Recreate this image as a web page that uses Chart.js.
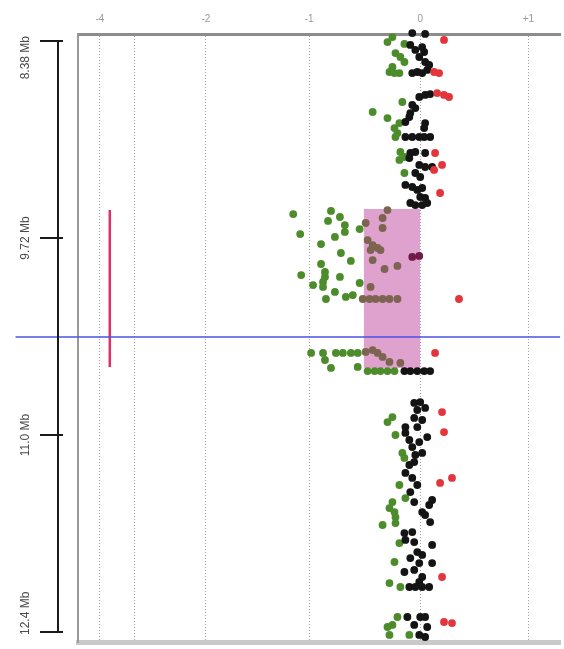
<!DOCTYPE html>
<html>
<head>
<meta charset="utf-8">
<script src="https://cdn.jsdelivr.net/npm/chart.js@4/dist/chart.umd.min.js"></script>
<style>
  html, body { margin: 0; padding: 0; background: #ffffff; }
  #c { display: block; }
</style>
</head>
<body>
<canvas id="c" width="564" height="649"></canvas>
<script>
// ---- axis ticks ----
const xTickValues = [-2.936, -2.618, -1.964, -1.018, 0, 0.991];
const xTickLabels = ['-4', '', '-2', '-1', '0', '+1'];
const yTickValues = [8.38, 9.72, 11.06, 12.40];
const yTickLabels = ['8.38 Mb', '9.72 Mb', '11.0 Mb', '12.4 Mb'];

// ---- selection box, segment, cut line ----
const boxX = [-0.518, 0];
const boxY = [9.523, 10.604];
const segX = [-2.845, -2.845];
const segY = [9.53, 10.597];
const cutY = 10.393;
const cutX = [-3.709, 1.2818];

// ---- series: [log ratio, position Mb] ----
const greenPts = [
  [-0.255,8.353],[-0.300,8.387],[-0.145,8.400],[-0.227,8.462],[-0.182,8.489],[-0.145,8.523],
  [-0.255,8.557],[-0.282,8.591],[-0.236,8.598],[-0.191,8.598],[-0.164,8.795],[-0.436,8.863],
  [-0.300,8.904],[-0.191,8.938],[-0.236,8.972],[-0.209,9.006],[-0.227,9.033],[-0.182,9.135],
  [-0.145,9.169],[-0.191,9.189],[-0.145,9.278],
  [-1.164,9.557],[-0.818,9.536],[-0.845,9.604],[-0.736,9.577],[-0.691,9.632],[-0.691,9.679],
  [-1.100,9.693],[-0.782,9.713],[-0.555,9.659],[-0.909,9.761],[-0.727,9.822],[-0.636,9.876],
  [-0.909,9.897],[-0.873,9.951],[-0.873,9.985],[-0.891,10.019],[-0.891,10.053],[-1.091,9.972],
  [-0.736,9.985],[-0.982,10.040],[-0.555,10.026],[-0.782,10.087],[-0.682,10.121],[-0.618,10.108],
  [-0.864,10.135],
  [-1.000,10.502],[-0.891,10.502],[-0.773,10.502],[-0.709,10.502],[-0.636,10.502],[-0.573,10.502],
  [-0.873,10.550],[-0.818,10.604],[-0.573,10.597],
  [-0.482,10.625],[-0.418,10.625],[-0.364,10.625],[-0.300,10.625],[-0.236,10.625],
  [-0.255,10.938],[-0.300,10.972],[-0.227,11.060],[-0.164,11.182],[-0.145,11.216],[-0.191,11.400],
  [-0.136,11.489],[-0.255,11.516],[-0.282,11.557],[-0.236,11.584],[-0.227,11.618],[-0.345,11.672],
  [-0.227,11.659],[-0.191,11.795],[-0.236,11.924],[-0.282,12.067],[-0.182,12.094],[-0.209,12.298],
  [-0.300,12.366],[-0.255,12.352],[-0.282,12.420],[-0.100,12.420]
];
const brownPts = [
  [-0.300,9.530],[-0.345,9.584],[-0.345,9.652],[-0.500,9.618],[-0.482,9.734],[-0.436,9.768],
  [-0.391,9.788],[-0.364,9.802],[-0.455,9.802],[-0.436,9.870],[-0.327,9.931],[-0.209,9.910],
  [-0.455,10.053],[-0.527,10.135],[-0.464,10.135],[-0.409,10.135],[-0.345,10.135],[-0.282,10.135],
  [-0.209,10.135],[-0.500,10.495],[-0.436,10.482],[-0.391,10.502],[-0.345,10.529],[-0.282,10.563],
  [-0.182,10.570]
];
const maroonPts = [[-0.073,9.849],[-0.009,9.842]];
const blackPts = [
  [-0.073,8.326],[0.045,8.332],[-0.091,8.407],[0.018,8.421],[-0.045,8.441],[0.036,8.455],
  [-0.009,8.489],[0.045,8.523],[0.082,8.543],[-0.073,8.598],[-0.027,8.591],[0.018,8.598],
  [0.064,8.577],[-0.009,8.761],[0.045,8.747],[0.091,8.741],[-0.073,8.815],[-0.045,8.836],
  [-0.091,8.870],[-0.100,8.897],[-0.136,8.931],[0.045,8.938],[0.036,8.972],[-0.136,9.033],
  [-0.073,9.033],[-0.009,9.033],[0.036,9.033],[0.091,9.033],[-0.091,9.142],[-0.045,9.135],
  [0.045,9.142],[-0.100,9.176],[-0.009,9.223],[0.045,9.237],[0.109,9.237],[-0.045,9.278],
  [0.000,9.305],[-0.136,9.359],[-0.073,9.373],[-0.027,9.393],[0.018,9.380],[0.000,9.441],
  [0.045,9.448],[-0.091,9.482],[-0.045,9.496],[0.018,9.496],[0.064,9.482],
  [-0.145,10.625],[-0.091,10.625],[-0.027,10.625],[0.036,10.625],[0.091,10.625],
  [-0.055,10.842],[0.000,10.836],[0.045,10.876],[-0.027,10.890],[-0.055,10.944],[0.018,10.958],
  [-0.136,11.006],[-0.027,11.006],[-0.136,11.046],[0.064,11.074],[-0.100,11.094],[-0.009,11.108],
  [-0.073,11.142],[-0.045,11.196],[0.018,11.182],[-0.055,11.244],[-0.100,11.264],[-0.136,11.318],
  [-0.073,11.352],[-0.027,11.400],[-0.091,11.448],[0.109,11.502],[-0.055,11.516],[0.082,11.536],
  [0.018,11.584],[0.045,11.604],[0.091,11.652],[-0.145,11.727],[-0.073,11.720],[-0.136,11.774],
  [-0.055,11.788],[0.109,11.808],[-0.027,11.856],[0.018,11.876],[-0.091,11.897],[-0.009,11.931],
  [0.109,11.931],[-0.145,11.992],[-0.055,11.978],[0.018,12.026],[-0.009,12.060],[-0.100,12.094],
  [-0.045,12.094],[0.018,12.094],[0.082,12.094],[-0.118,12.298],[0.000,12.298],[0.045,12.298],
  [-0.055,12.352],[0.064,12.366],[-0.009,12.420],[0.045,12.434]
];
const redPts = [
  [0.218,8.373],[0.127,8.591],[0.173,8.598],[0.155,8.734],[0.218,8.747],[0.264,8.761],
  [0.136,9.142],[0.200,9.223],[0.127,9.257],[0.182,9.414],[0.355,10.135],[0.136,10.502],
  [0.200,10.904],[0.218,11.040],[0.182,11.386],[0.291,11.352],[0.200,12.026],[0.218,12.332],
  [0.291,12.339]
];

const toXY = arr => arr.map(p => ({x: p[0], y: p[1]}));
const pointSet = (pts, color, order) => ({
  data: toXY(pts), backgroundColor: color, borderWidth: 0,
  pointRadius: 3.9, pointHoverRadius: 3.9, order: order, clip: false
});

const leftAxisPlugin = {
  id: 'leftAxis',
  afterDraw(chart) {
    const ys = chart.scales.y;
    const c = chart.ctx;
    const p = yTickValues.map(v => ys.getPixelForValue(v));
    c.save();
    c.strokeStyle = '#1a1a1a';
    c.lineWidth = 2;
    c.beginPath();
    c.moveTo(58, p[0]);
    c.lineTo(58, p[p.length - 1]);
    c.stroke();
    p.forEach(py => {
      c.beginPath();
      c.moveTo(40, Math.round(py));
      c.lineTo(63, Math.round(py));
      c.stroke();
    });
    c.font = '12px "Liberation Sans", Arial, sans-serif';
    c.fillStyle = '#4a4a4a';
    c.textBaseline = 'middle';
    p.forEach((py, i) => {
      c.save();
      let ay = py;
      if (i === 0) { c.textAlign = 'right'; ay = py - 5; }
      else if (i === p.length - 1) { c.textAlign = 'left'; ay = py + 3; }
      else { c.textAlign = 'center'; }
      c.translate(26, ay);
      c.rotate(-Math.PI / 2);
      c.fillText(yTickLabels[i], 0, 0);
      c.restore();
    });
    c.restore();
  }
};

new Chart(document.getElementById('c'), {
  type: 'scatter',
  data: {
    datasets: [
      { type: 'line', data: toXY([[cutX[0], cutY], [cutX[1], cutY]]), borderColor: '#4a52e4',
        borderWidth: 1.5, pointRadius: 0, fill: false, clip: false, order: 0 },
      { type: 'line', data: toXY([[segX[0], segY[0]], [segX[1], segY[1]]]), borderColor: '#de2f68',
        borderWidth: 2.5, pointRadius: 0, fill: false, order: 1 },
      pointSet(redPts, '#e2363c', 2),
      pointSet(maroonPts, '#6e1c45', 3),
      pointSet(blackPts, '#141414', 4),
      pointSet(brownPts, '#7d6450', 5),
      pointSet(greenPts, '#4c8c2b', 6),
      { type: 'line', data: toXY([[boxX[0], boxY[0]], [boxX[1], boxY[0]]]),
        borderWidth: 0, pointRadius: 0, backgroundColor: '#dfa1cd',
        fill: { target: { value: boxY[1] } }, order: 7 }
    ]
  },
  options: {
    responsive: false,
    animation: false,
    events: [],
    layout: { padding: 0 },
    plugins: { legend: { display: false }, tooltip: { enabled: false } },
    scales: {
      x: {
        type: 'linear', position: 'top', min: -3.1364, max: 1.2818,
        afterBuildTicks: s => { s.ticks = xTickValues.map(v => ({ value: v })); },
        ticks: {
          callback: (v, i) => xTickLabels[i],
          font: { size: 10, family: '"Liberation Sans", Arial, sans-serif' },
          color: '#9a9a9a', padding: 9, maxRotation: 0, autoSkip: false
        },
        grid: { color: '#a0a0a0', lineWidth: 1, drawTicks: false },
        border: { color: '#8c8c8c', width: 3, dash: [1, 2] },
        afterFit: s => { s.height = 34; }
      },
      xb: {
        type: 'linear', position: 'bottom', min: -3.1364, max: 1.2818,
        ticks: { display: false }, grid: { display: false },
        border: { color: '#c9c9c9', width: 5 },
        afterFit: s => { s.height = 7; }
      },
      y: {
        type: 'linear', position: 'left', reverse: true, min: 8.3324, max: 12.468,
        ticks: { display: false }, grid: { display: false },
        border: { color: '#9a9a9a', width: 2 },
        afterFit: s => { s.width = 78; }
      }
    }
  },
  plugins: [leftAxisPlugin]
});
</script>
</body>
</html>
